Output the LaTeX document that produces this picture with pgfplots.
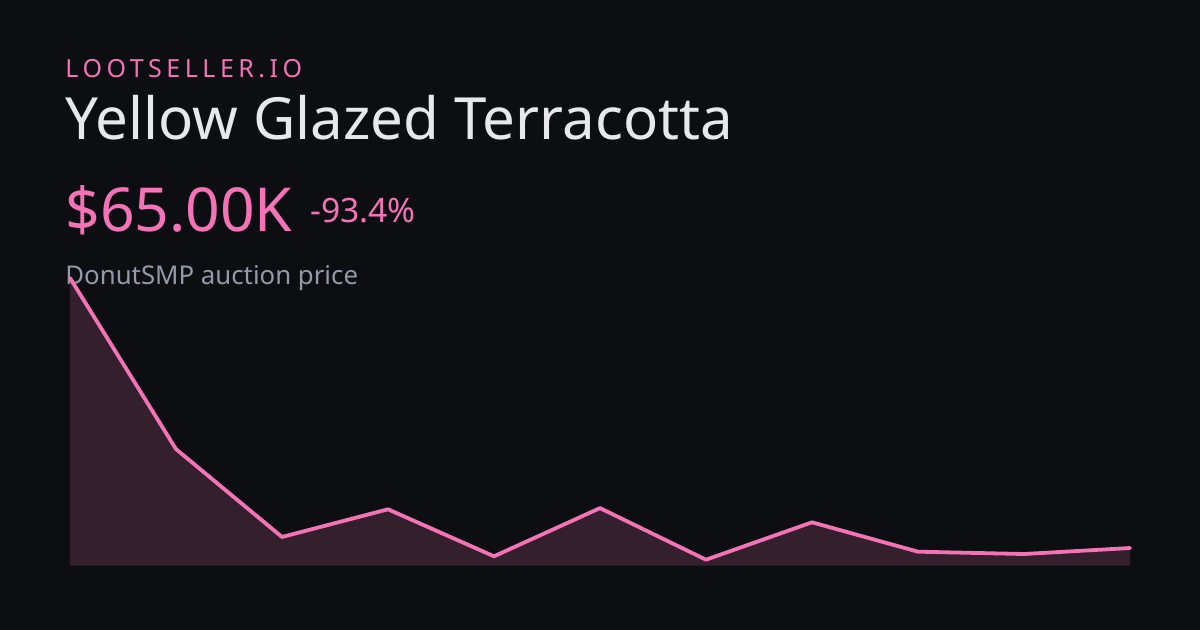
\documentclass[border=0pt]{standalone}
\usepackage{fontspec}
\setmainfont{Noto Sans}
\usepackage{pgfplots}
\pgfplotsset{compat=1.18}
\definecolor{bg}{HTML}{0D0E12}
\definecolor{pink}{HTML}{F472B6}
\definecolor{fillc}{HTML}{33202C}
\definecolor{titlec}{HTML}{E8E8EC}
\definecolor{subc}{HTML}{9499A8}
\begin{document}
\begin{tikzpicture}
\fill[bg] (0,0) rectangle (600pt,315pt);
\useasboundingbox (0,0) rectangle (600pt,315pt);
\node[anchor=base west, inner sep=0, text=pink, font=\fontsize{12.5pt}{14pt}\selectfont\addfontfeature{LetterSpace=18}] at (32.5pt,276pt) {LOOTSELLER.IO};
\node[anchor=base west, inner sep=0, text=titlec, font=\fontsize{29.1pt}{32pt}\selectfont] at (32.5pt,245pt) {Yellow Glazed Terracotta};
\node[anchor=base west, inner sep=0, text=pink, font=\fontsize{30.3pt}{32pt}\selectfont] at (32.5pt,199.2pt) {\$65.00K};
\node[anchor=base west, inner sep=0, text=pink, font=\fontsize{16.8pt}{18pt}\selectfont] at (155pt,203.7pt) {-93.4\%};
\node[anchor=base west, inner sep=0, text=subc, font=\fontsize{12.9pt}{14pt}\selectfont] at (32.5pt,172.5pt) {DonutSMP auction price};
\begin{axis}[
  at={(35pt,32.15pt)}, anchor=south west,
  scale only axis, width=530pt, height=143.85pt,
  xmin=0, xmax=10, ymin=4.8, ymax=985,
  hide axis, clip=false,
]
\addplot[fill=fillc, draw=none] coordinates {
(0,985) (1,402) (2,102.6) (3,197) (4,36.8) (5,201) (6,25.2) (7,152.6) (8,52.5) (9,44.6) (10,65)
} \closedcycle;
\addplot[pink, line width=1.9pt, line join=round, line cap=round] coordinates {
(0,985) (1,402) (2,102.6) (3,197) (4,36.8) (5,201) (6,25.2) (7,152.6) (8,52.5) (9,44.6) (10,65)
};
\end{axis}
\end{tikzpicture}
\end{document}
